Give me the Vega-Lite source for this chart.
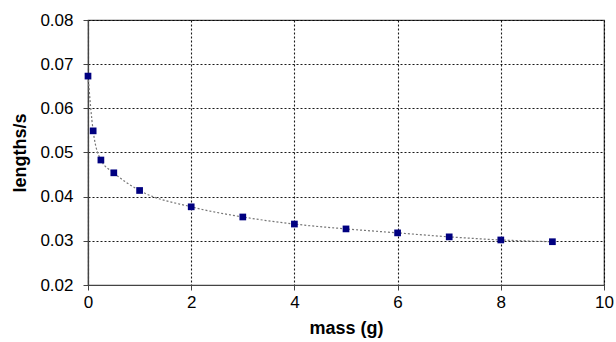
{
  "$schema": "https://vega.github.io/schema/vega-lite/v6.json",
  "width": 516,
  "height": 265,
  "autosize": {"type": "none"},
  "padding": {"left": 88, "top": 20, "right": 12, "bottom": 57},
  "background": "white",
  "config": {
    "view": {"stroke": "#444", "strokeWidth": 1.2},
    "font": "Liberation Sans"
  },
  "data": {
    "values": [
      {"mass": 0, "rate": 0.0673},
      {"mass": 0.1, "rate": 0.0549},
      {"mass": 0.25, "rate": 0.0483},
      {"mass": 0.5, "rate": 0.0454},
      {"mass": 1, "rate": 0.0414},
      {"mass": 2, "rate": 0.0377},
      {"mass": 3, "rate": 0.0354},
      {"mass": 4, "rate": 0.0338},
      {"mass": 5, "rate": 0.0327},
      {"mass": 6, "rate": 0.0318},
      {"mass": 7, "rate": 0.0309},
      {"mass": 8, "rate": 0.0302},
      {"mass": 9, "rate": 0.0298}
    ]
  },
  "encoding": {
    "x": {
      "field": "mass", "type": "quantitative",
      "scale": {"domain": [0, 10], "nice": false},
      "axis": {
        "title": "mass (g)", "values": [0, 2, 4, 6, 8, 10], "format": "d",
        "labelFontSize": 17, "labelColor": "#000", "labelPadding": 4,
        "titleFontSize": 18, "titleFontWeight": "bold", "titleColor": "#000", "titlePadding": 9,
        "domainColor": "#444", "domainWidth": 1.2, "tickColor": "#444", "tickSize": 5,
        "grid": true, "gridColor": "#000", "gridDash": [2, 2], "gridWidth": 1.1, "gridOpacity": 0.9,
        "labelFlush": false
      }
    },
    "y": {
      "field": "rate", "type": "quantitative",
      "scale": {"domain": [0.02, 0.08], "nice": false, "zero": false},
      "axis": {
        "title": "lengths/s", "values": [0.02, 0.03, 0.04, 0.05, 0.06, 0.07, 0.08], "format": ".2f",
        "labelFontSize": 17, "labelColor": "#000", "labelPadding": 10,
        "titleFontSize": 18, "titleFontWeight": "bold", "titleColor": "#000", "titlePadding": 10,
        "domainColor": "#444", "domainWidth": 1.2, "tickColor": "#444", "tickSize": 5,
        "grid": true, "gridColor": "#000", "gridDash": [2, 2], "gridWidth": 1.1, "gridOpacity": 0.9,
        "labelFlush": false
      }
    }
  },
  "layer": [
    {
      "mark": {"type": "line", "interpolate": "monotone", "color": "#777", "strokeDash": [2, 2], "strokeWidth": 1.2}
    },
    {
      "mark": {"type": "square", "size": 45, "color": "#000080", "opacity": 1, "filled": true}
    }
  ]
}
